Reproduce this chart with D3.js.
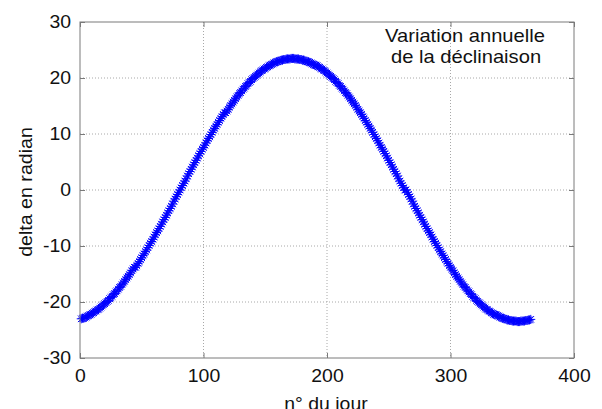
<!DOCTYPE html>
<html><head><meta charset="utf-8">
<script src="https://cdn.jsdelivr.net/npm/d3@7"></script>
<style>
html,body{margin:0;padding:0;background:#fff;}
svg{display:block;}
text{font-family:"Liberation Sans",Arial,Helvetica,sans-serif;fill:#111;}
</style></head>
<body>
<svg id="chart" width="602" height="409"></svg>
<script>
// Day numbers (x) and declination values (y)
const days = d3.range(1, 366);
const delta = [
-23.0,-22.9,-22.9,-22.8,-22.7,-22.5,-22.4,-22.3,-22.2,-22.0,
-21.9,-21.7,-21.6,-21.4,-21.3,-21.1,-20.9,-20.7,-20.5,-20.3,
-20.1,-19.9,-19.7,-19.4,-19.2,-19.0,-18.7,-18.5,-18.2,-18.0,
-17.7,-17.4,-17.2,-16.9,-16.6,-16.3,-16.0,-15.7,-15.4,-15.1,
-14.8,-14.4,-14.1,-13.8,-13.8,-13.5,-13.1,-12.8,-12.4,-12.1,
-11.7,-11.4,-11.0,-10.7,-10.3,-9.9,-9.5,-9.2,-8.8,-8.4,
-8.0,-7.6,-7.3,-6.9,-6.5,-6.1,-5.7,-5.3,-4.9,-4.5,
-4.1,-3.7,-3.3,-2.9,-2.5,-2.0,-1.6,-1.2,-0.8,-0.4,
0.0,0.4,0.8,1.2,1.6,2.0,2.5,2.9,3.3,3.7,
4.1,4.5,4.9,5.3,5.7,6.1,6.5,6.9,7.3,7.6,
8.0,8.4,8.8,9.2,9.5,9.9,10.3,10.7,11.0,11.4,
11.7,12.1,12.4,12.8,13.1,13.5,13.8,13.8,14.1,14.4,
14.8,15.1,15.4,15.7,16.0,16.3,16.6,16.9,17.2,17.4,
17.7,18.0,18.2,18.5,18.7,19.0,19.2,19.4,19.7,19.9,
20.1,20.3,20.5,20.7,20.9,21.1,21.3,21.4,21.6,21.7,
21.9,22.0,22.2,22.3,22.4,22.5,22.7,22.8,22.9,22.9,
23.0,23.1,23.2,23.2,23.3,23.3,23.4,23.4,23.4,23.4,
23.5,23.5,23.5,23.4,23.4,23.4,23.4,23.3,23.3,23.2,
23.2,23.1,23.0,22.9,22.9,22.8,22.7,22.5,22.4,22.3,
22.3,22.2,22.0,21.9,21.7,21.6,21.4,21.3,21.1,20.9,
20.7,20.5,20.3,20.1,19.9,19.7,19.4,19.2,19.0,18.7,
18.5,18.2,18.0,17.7,17.4,17.2,16.9,16.6,16.3,16.0,
15.7,15.4,15.1,14.8,14.4,14.1,13.8,13.5,13.1,12.8,
12.4,12.1,11.7,11.4,11.0,10.7,10.3,9.9,9.5,9.2,
8.8,8.4,8.0,7.6,7.3,6.9,6.5,6.1,5.7,5.3,
4.9,4.5,4.1,3.7,3.3,2.9,2.5,2.0,1.6,1.2,
0.8,0.4,0.0,0.0,-0.4,-0.8,-1.2,-1.6,-2.0,-2.5,
-2.9,-3.3,-3.7,-4.1,-4.5,-4.9,-5.3,-5.7,-6.1,-6.5,
-6.9,-7.3,-7.6,-8.0,-8.4,-8.8,-9.2,-9.5,-9.9,-10.3,
-10.7,-11.0,-11.4,-11.7,-12.1,-12.4,-12.8,-13.1,-13.5,-13.8,
-14.1,-14.4,-14.8,-15.1,-15.4,-15.7,-16.0,-16.3,-16.6,-16.9,
-17.2,-17.4,-17.7,-18.0,-18.2,-18.5,-18.7,-19.0,-19.2,-19.4,
-19.7,-19.9,-20.1,-20.3,-20.5,-20.7,-20.9,-21.1,-21.3,-21.4,
-21.6,-21.7,-21.9,-22.0,-22.2,-22.3,-22.3,-22.4,-22.5,-22.7,
-22.8,-22.9,-22.9,-23.0,-23.1,-23.2,-23.2,-23.3,-23.3,-23.4,
-23.4,-23.4,-23.4,-23.5,-23.5,-23.5,-23.4,-23.4,-23.4,-23.4,
-23.3,-23.3,-23.2,-23.2,-23.1
];
const xTicks = [0, 100, 200, 300, 400];
const yTicks = [-30, -20, -10, 0, 10, 20, 30];
const titleLines = ["Variation annuelle", "de la déclinaison"];
const xLabel = "n° du jour";
const yLabel = "delta en radian";

const svg = d3.select("#chart");
const L = 80, R = 574, T = 22, B = 358;
const x = d3.scaleLinear().domain([0, 400]).range([L, R]);
const y = d3.scaleLinear().domain([-30, 30]).range([B, T]);
const axisCol = "#7a7a7a";
const FS = 18, SX = 1.08;
const fmt = d => String(d);

// grid lines (dotted)
const grid = svg.append("g");
grid.selectAll(".gx").data(xTicks.slice(1, -1)).join("line")
  .attr("x1", d => x(d)).attr("x2", d => x(d)).attr("y1", T).attr("y2", B)
  .attr("stroke", "#a8a8a8").attr("stroke-width", 1).attr("stroke-dasharray", "1,2");
grid.selectAll(".gy").data(yTicks.slice(1, -1)).join("line")
  .attr("x1", L).attr("x2", R).attr("y1", d => y(d)).attr("y2", d => y(d))
  .attr("stroke", "#a8a8a8").attr("stroke-width", 1).attr("stroke-dasharray", "1,2");

// markers '*'
const star = "M-4.5,0H4.5M0,-4.5V4.5M-3.3,-3.3L3.3,3.3M-3.3,3.3L3.3,-3.3";
svg.append("g").selectAll("path").data(days).join("path")
  .attr("d", star)
  .attr("transform", (d, i) => `translate(${x(d)},${y(delta[i])})`)
  .attr("fill", "none").attr("stroke", "#0000ff").attr("stroke-width", 1);

// axes
function styleAxis(g) {
  g.select(".domain").remove();
  g.selectAll(".tick line").attr("stroke", axisCol);
  g.attr("font-family", null).attr("font-size", null);
  g.selectAll("text").attr("fill", "#111").style("font-size", FS + "px");
}
const gx = svg.append("g").attr("transform", `translate(0,${B})`)
  .call(d3.axisBottom(x).tickValues(xTicks).tickFormat(fmt).tickSizeInner(-5).tickSizeOuter(0).tickPadding(11.7));
styleAxis(gx);
gx.selectAll("text").attr("transform", `scale(${SX},1)`);

const gy = svg.append("g").attr("transform", `translate(${L},0)`)
  .call(d3.axisLeft(y).tickValues(yTicks).tickFormat(fmt).tickSizeInner(-5).tickSizeOuter(0).tickPadding(9));
styleAxis(gy);
gy.selectAll("text").attr("x", -9 / SX).attr("transform", `scale(${SX},1)`);

const gt = svg.append("g").attr("transform", `translate(0,${T})`)
  .call(d3.axisTop(x).tickValues(xTicks).tickFormat("").tickSizeInner(-5).tickSizeOuter(0));
styleAxis(gt);
const gr = svg.append("g").attr("transform", `translate(${R},0)`)
  .call(d3.axisRight(y).tickValues(yTicks).tickFormat("").tickSizeInner(-5).tickSizeOuter(0));
styleAxis(gr);

// frame
svg.append("rect").attr("x", L).attr("y", T).attr("width", R - L).attr("height", B - T)
  .attr("fill", "none").attr("stroke", axisCol).attr("stroke-width", 1);

// texts
function label(txt, px, py, anchor, sx, rot) {
  svg.append("g").attr("transform", `translate(${px},${py}) rotate(${rot || 0}) scale(${sx},1)`)
    .append("text").attr("text-anchor", anchor).style("font-size", FS + "px").text(txt);
}
label(titleLines[0], 465, 41.5, "middle", 1.12);
label(titleLines[1], 466, 63, "middle", 1.12);
label(xLabel, 326, 410, "middle", SX);
label(yLabel, 32, 192, "middle", 1.09, -90);
</script>
</body></html>
